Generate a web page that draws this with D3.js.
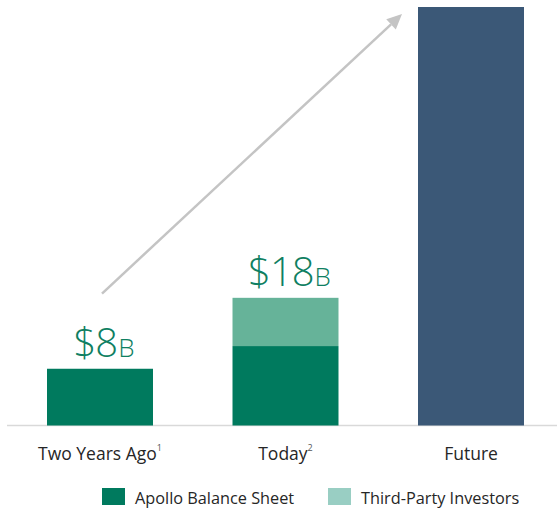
<!DOCTYPE html>
<html><head><meta charset="utf-8">
<script src="https://cdn.jsdelivr.net/npm/d3@7"></script>
<style>html,body{margin:0;padding:0;background:#fff;}svg{display:block;}</style>
</head><body>
<svg id="c" width="558" height="511"></svg>
<script>
const categories = ["Two Years Ago", "Today", "Future"];
const footnotes = ["1", "2", ""];
const apolloBalanceSheet = [8, 11.2, 0];
const thirdPartyInvestors = [0, 6.8, 0];
const futureValues = [0, 0, 59];
const totalLabels = ["$8", "$18", ""];
const legendLabels = ["Apollo Balance Sheet", "Third-Party Investors"];

const colors = {apollo: "#007a5e", third: "#66b399", future: "#3b5877", legendThird: "#99cec3", label: "#0f7f62", text: "#262626"};
const font = "'Open Sans', 'Segoe UI', sans-serif";

const svg = d3.select("#c");
const baseY = 425.5;
const x = d3.scaleBand().domain(categories).range([7.25, 563.75]).paddingInner(0.4286).paddingOuter(0.2143);
const y = d3.scaleLinear().domain([0, 59]).range([baseY, 7]);

// axis line
svg.append("line").attr("x1", 7).attr("x2", 557).attr("y1", baseY).attr("y2", baseY)
  .attr("stroke", "#d9d9d9").attr("stroke-width", 1.5);

const rows = categories.map((c, i) => ({c, a: apolloBalanceSheet[i], t: thirdPartyInvestors[i], f: futureValues[i]}));
const g = svg.append("g");
g.selectAll(".a").data(rows.filter(d => d.a > 0)).join("rect")
  .attr("x", d => x(d.c)).attr("width", x.bandwidth())
  .attr("y", d => y(d.a)).attr("height", d => y(0) - y(d.a)).attr("fill", colors.apollo);
g.selectAll(".t").data(rows.filter(d => d.t > 0)).join("rect")
  .attr("x", d => x(d.c)).attr("width", x.bandwidth())
  .attr("y", d => y(d.a + d.t)).attr("height", d => y(d.a) - y(d.a + d.t)).attr("fill", colors.third);
g.selectAll(".f").data(rows.filter(d => d.f > 0)).join("rect")
  .attr("x", d => x(d.c)).attr("width", x.bandwidth())
  .attr("y", d => y(d.f)).attr("height", d => y(0) - y(d.f)).attr("fill", colors.future);

// arrow
const ax1 = x(categories[0]) + x.bandwidth() / 2 + 2, ay1 = y(18.6);
const ax2 = x(categories[2]) - 16, ay2 = y(58);
const ang = Math.atan2(ay2 - ay1, ax2 - ax1);
const hl = 15, hw = 7;
const bx = ax2 - hl * Math.cos(ang), by = ay2 - hl * Math.sin(ang);
svg.append("line").attr("x1", ax1).attr("y1", ay1).attr("x2", bx).attr("y2", by)
  .attr("stroke", "#c4c4c4").attr("stroke-width", 2.5);
svg.append("path").attr("d", `M${ax2},${ay2} L${bx - hw * Math.sin(ang)},${by + hw * Math.cos(ang)} L${bx + hw * Math.sin(ang)},${by - hw * Math.cos(ang)} Z`)
  .attr("fill", "#c4c4c4");

// value labels
rows.forEach((d, i) => {
  if (!totalLabels[i]) return;
  const tot = d.a + d.t;
  const t = svg.append("text").attr("x", x(d.c) + x.bandwidth() / 2 + 4).attr("y", y(tot) - 12)
    .attr("text-anchor", "middle").attr("fill", colors.label).attr("font-family", font).attr("font-weight", 300);
  t.append("tspan").attr("font-size", 40).attr("letter-spacing", -1).text(totalLabels[i]);
  t.append("tspan").attr("font-size", 26).attr("dx", 1).text("B");
});

// category labels
rows.forEach((d, i) => {
  const t = svg.append("text").attr("x", x(d.c) + x.bandwidth() / 2).attr("y", 460)
    .attr("text-anchor", "middle").attr("fill", colors.text).attr("font-family", font).attr("font-size", 17.5);
  t.append("tspan").text(d.c);
  if (footnotes[i]) t.append("tspan").attr("font-size", 9).attr("dy", -9).attr("fill", "#555").text(footnotes[i]);
});

// legend
const leg = [{l: legendLabels[0], c: colors.apollo, x: 102}, {l: legendLabels[1], c: colors.legendThird, x: 328}];
leg.forEach(d => {
  svg.append("rect").attr("x", d.x).attr("y", 488).attr("width", 23).attr("height", 17).attr("fill", d.c);
  svg.append("text").attr("x", d.x + 33).attr("y", 503.5).attr("fill", colors.text)
    .attr("font-family", font).attr("font-size", 16.3).text(d.l);
});
</script>
</body></html>
